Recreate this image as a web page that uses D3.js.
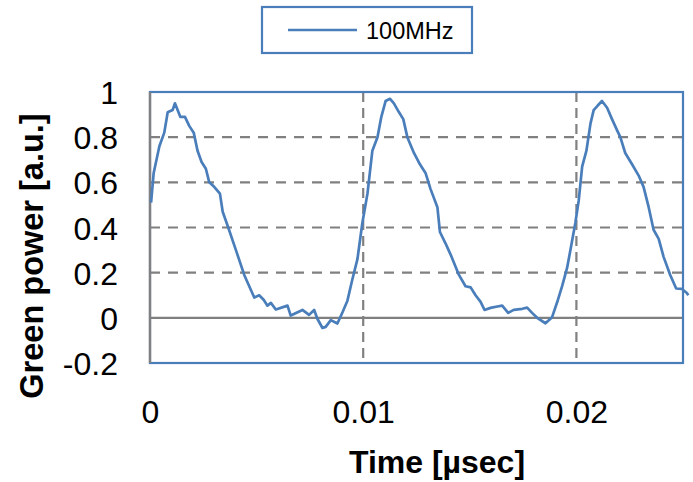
<!DOCTYPE html>
<html>
<head>
<meta charset="utf-8">
<script src="https://cdn.jsdelivr.net/npm/d3@7"></script>
<style>
  html, body { margin: 0; padding: 0; background: #fff; }
  svg { display: block; font-family: "Liberation Sans", Arial, sans-serif; }
</style>
</head>
<body>
<svg id="chart" width="693" height="482"></svg>
<script>
// Time axis (µsec) and measured green power (a.u.) for the 100MHz trace
const timeUs = [
  0.00005, 0.00017, 0.00044, 0.00067, 0.00083, 0.00106, 0.00117, 0.00142, 0.00164, 0.00184,
  0.00205, 0.00223, 0.00242, 0.00262, 0.00278, 0.00301, 0.00328, 0.00341, 0.00367, 0.00403,
  0.00442, 0.00489, 0.00512, 0.00533, 0.00551, 0.00567, 0.00590, 0.00645, 0.00660, 0.00715,
  0.00746, 0.00770, 0.00785, 0.00809, 0.00824, 0.00848, 0.00879, 0.00903, 0.00926, 0.00949,
  0.00973, 0.00996, 0.01020, 0.01043, 0.01067, 0.01085, 0.01105, 0.01126, 0.01144, 0.01168,
  0.01188, 0.01207, 0.01238, 0.01266, 0.01293, 0.01316, 0.01348, 0.01360, 0.01386, 0.01410,
  0.01449, 0.01480, 0.01504, 0.01527, 0.01550, 0.01569, 0.01597, 0.01629, 0.01652, 0.01680,
  0.01706, 0.01746, 0.01769, 0.01792, 0.01816, 0.01855, 0.01886, 0.01910, 0.01933, 0.01956,
  0.01972, 0.01995, 0.02011, 0.02027, 0.02047, 0.02066, 0.02081, 0.02100, 0.02120, 0.02144,
  0.02167, 0.02191, 0.02206, 0.02229, 0.02261, 0.02292, 0.02315, 0.02339, 0.02362, 0.02386,
  0.02409, 0.02440, 0.02468, 0.02495, 0.02518, 0.02525
];
const power100MHz = [
  0.51, 0.64, 0.76, 0.82, 0.91, 0.92, 0.95, 0.89, 0.89, 0.85,
  0.82, 0.74, 0.69, 0.66, 0.60, 0.58, 0.55, 0.47, 0.40, 0.30,
  0.19, 0.09, 0.10, 0.08, 0.054, 0.066, 0.037, 0.054, 0.01, 0.035,
  0.013, 0.035, -0.004, -0.045, -0.04, -0.01, -0.025, 0.025, 0.076, 0.17,
  0.26, 0.42, 0.55, 0.74, 0.80, 0.89, 0.96, 0.97, 0.95, 0.91,
  0.88, 0.80, 0.73, 0.68, 0.64, 0.57, 0.49, 0.38, 0.33, 0.28,
  0.19, 0.14, 0.135, 0.10, 0.072, 0.035, 0.044, 0.05, 0.054, 0.022,
  0.035, 0.04, 0.045, 0.022, 0.0, -0.024, 0.003, 0.07, 0.14, 0.22,
  0.30, 0.42, 0.52, 0.67, 0.74, 0.86, 0.92, 0.94, 0.96, 0.93,
  0.88, 0.83, 0.80, 0.73, 0.68, 0.63, 0.58, 0.49, 0.39, 0.35,
  0.27, 0.19, 0.13, 0.128, 0.11, 0.10
];
const seriesName = "100MHz";
const xTicks = [0, 0.01, 0.02];
const xTickLabels = ["0", "0.01", "0.02"];
const yTicks = [-0.2, 0, 0.2, 0.4, 0.6, 0.8, 1];
const yTickLabels = ["-0.2", "0", "0.2", "0.4", "0.6", "0.8", "1"];

const blue = "#4a7ebb";
const gridGray = "#808080";

const svg = d3.select("#chart");
const plot = { left: 150, right: 683, top: 92, bottom: 363 };

const x = d3.scaleLinear().domain([0, 0.025]).range([plot.left, plot.right]);
const y = d3.scaleLinear().domain([-0.2, 1]).range([plot.bottom, plot.top]);

// Horizontal dashed gridlines (zero gets a solid line)
svg.append("g")
  .selectAll("line")
  .data(yTicks.filter(v => v !== 0 && v !== -0.2))
  .join("line")
  .attr("x1", plot.left).attr("x2", plot.right)
  .attr("y1", d => y(d)).attr("y2", d => y(d))
  .attr("stroke", gridGray).attr("stroke-width", 2.2)
  .attr("stroke-dasharray", "10,8");

// Vertical dashed gridlines
svg.append("g")
  .selectAll("line")
  .data(xTicks.filter(v => v !== 0))
  .join("line")
  .attr("x1", d => x(d)).attr("x2", d => x(d))
  .attr("y1", plot.top).attr("y2", plot.bottom)
  .attr("stroke", gridGray).attr("stroke-width", 2.2)
  .attr("stroke-dasharray", "10,6");

// Zero line
svg.append("line")
  .attr("x1", plot.left).attr("x2", plot.right)
  .attr("y1", y(0)).attr("y2", y(0))
  .attr("stroke", gridGray).attr("stroke-width", 2.2);

// Plot-area frame
svg.append("rect")
  .attr("x", plot.left).attr("y", plot.top)
  .attr("width", plot.right - plot.left).attr("height", plot.bottom - plot.top)
  .attr("fill", "none").attr("stroke", blue).attr("stroke-width", 2.2);

// Y axis line
svg.append("line")
  .attr("x1", plot.left).attr("x2", plot.left)
  .attr("y1", plot.top).attr("y2", plot.bottom)
  .attr("stroke", gridGray).attr("stroke-width", 2.4);

// Data line
const points = timeUs.map((t, i) => [t, power100MHz[i]]);
svg.append("path")
  .datum(points)
  .attr("fill", "none")
  .attr("stroke", blue)
  .attr("stroke-width", 2.7)
  .attr("stroke-linejoin", "round")
  .attr("d", d3.line().x(d => x(d[0])).y(d => y(d[1])));

// Axes (labels only; lines drawn above)
const yAxis = d3.axisLeft(y).tickValues(yTicks)
  .tickFormat((d, i) => yTickLabels[i]).tickSize(0).tickPadding(32);
const gy = svg.append("g").attr("transform", `translate(${plot.left},0)`).call(yAxis);
gy.select(".domain").remove();
gy.selectAll("text").attr("font-size", 32).attr("fill", "#000")
  .attr("font-family", "Liberation Sans, Arial, sans-serif").attr("dy", "0.36em");

const xAxis = d3.axisBottom(x).tickValues(xTicks)
  .tickFormat((d, i) => xTickLabels[i]).tickSize(0).tickPadding(0);
const gx = svg.append("g").attr("transform", `translate(0,${plot.bottom})`).call(xAxis);
gx.select(".domain").remove();
gx.selectAll("text").attr("font-size", 32).attr("fill", "#000")
  .attr("font-family", "Liberation Sans, Arial, sans-serif")
  .attr("y", 0).attr("dy", 0).attr("transform", "translate(0,60)");

// Axis titles
svg.append("text")
  .attr("x", 437).attr("y", 473)
  .attr("text-anchor", "middle")
  .attr("font-size", 32).attr("font-weight", "bold")
  .text("Time [µsec]");

svg.append("text")
  .attr("transform", "translate(43,256) rotate(-90)")
  .attr("text-anchor", "middle")
  .attr("font-size", 32.5).attr("font-weight", "bold")
  .text("Green power [a.u.]");

// Legend
const legend = svg.append("g");
legend.append("rect")
  .attr("x", 262).attr("y", 7).attr("width", 210).attr("height", 46)
  .attr("fill", "#fff").attr("stroke", blue).attr("stroke-width", 2.2);
legend.append("line")
  .attr("x1", 288).attr("x2", 357).attr("y1", 30).attr("y2", 30)
  .attr("stroke", blue).attr("stroke-width", 2.6);
legend.append("text")
  .attr("x", 366).attr("y", 39)
  .attr("font-size", 23.5)
  .text(seriesName);
</script>
</body>
</html>
